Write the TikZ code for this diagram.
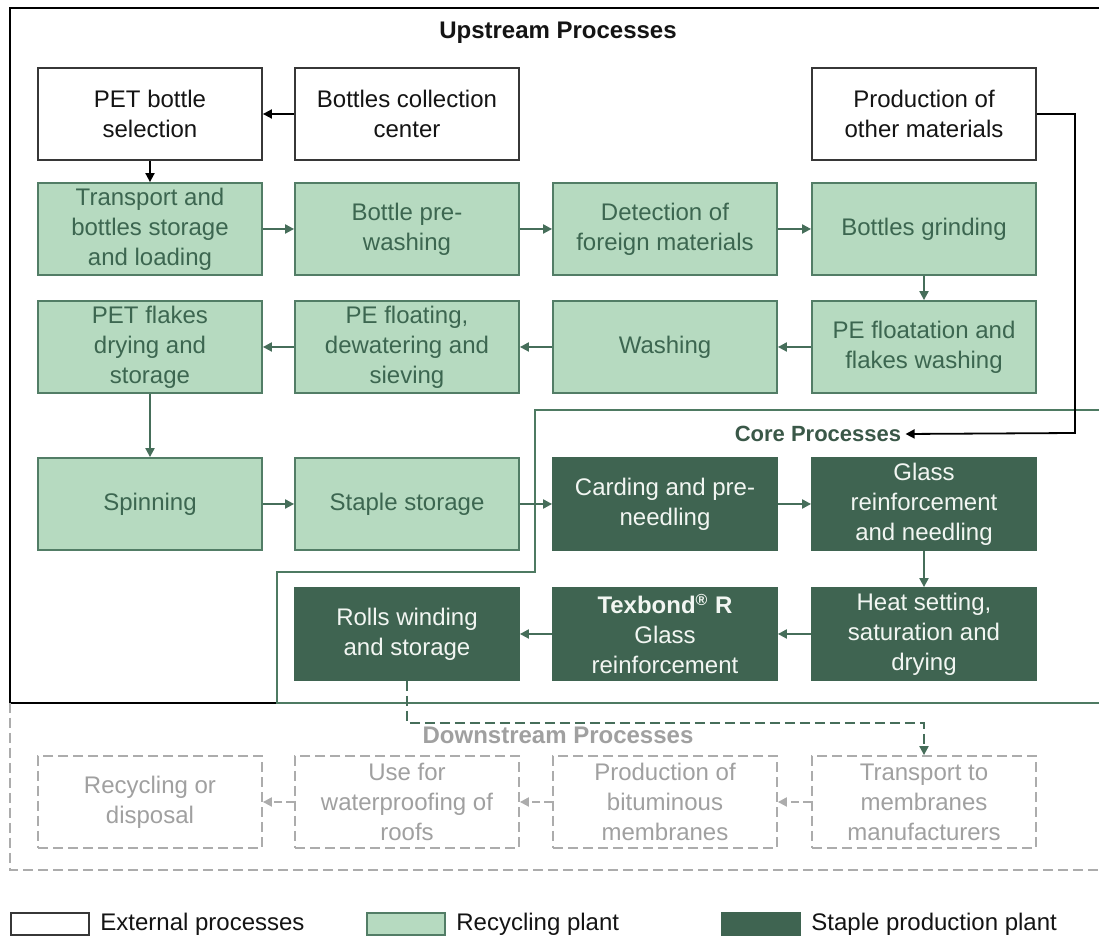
\documentclass[tikz,border=0pt]{standalone}
\usepackage{fontspec}
\setmainfont{Liberation Sans}
\usetikzlibrary{arrows.meta}
\definecolor{extdraw}{RGB}{55,55,55}
\definecolor{exttext}{RGB}{20,20,20}
\definecolor{recfill}{RGB}{182,218,192}
\definecolor{recdraw}{RGB}{82,125,102}
\definecolor{rectext}{RGB}{60,102,80}
\definecolor{stpfill}{RGB}{63,100,81}
\definecolor{stptext}{RGB}{242,246,242}
\definecolor{arrgreen}{RGB}{70,110,90}
\definecolor{coreline}{RGB}{78,122,98}
\definecolor{coretext}{RGB}{58,88,72}
\definecolor{graydraw}{RGB}{172,172,172}
\definecolor{graytext}{RGB}{160,160,160}
\begin{document}
\begin{tikzpicture}[x=0.5pt,y=-0.5pt,
  box/.style={minimum width=112pt,minimum height=46pt,inner sep=0pt,align=center,
    font=\fontsize{12pt}{15pt}\selectfont,line width=0.9pt},
  ext/.style={box,draw=extdraw,fill=white,text=exttext},
  rec/.style={box,draw=recdraw,fill=recfill,text=rectext},
  stp/.style={box,draw=stpfill,fill=stpfill,text=stptext},
  dwn/.style={box,draw=graydraw,dash pattern=on 5pt off 2.5pt,text=graytext},
  title/.style={font=\fontsize{12pt}{15pt}\selectfont\bfseries},
  garr/.style={-{Triangle[length=4.5pt,width=4.5pt]},line width=1pt,draw=arrgreen},
  karr/.style={-{Triangle[length=4.5pt,width=4.5pt]},line width=0.9pt,draw=black},
  darr/.style={-{Triangle[length=4.5pt,width=4.5pt]},line width=1pt,draw=graydraw,dash pattern=on 4pt off 2pt},
  legbox/.style={minimum width=39pt,minimum height=11pt,inner sep=0pt,line width=0.9pt},
  legtext/.style={anchor=west,inner sep=0pt,font=\fontsize{12pt}{15pt}\selectfont,text=exttext}
]
\useasboundingbox[fill=white] (0,0) rectangle (1099,940);

% frames
\draw[line width=1pt,black] (1099,8) -- (10,8) -- (10,703) -- (277,703);
\draw[line width=1pt,coreline] (1099,410) -- (535,410) -- (535,572) -- (277,572) -- (277,703) -- (1099,703);
\draw[line width=0.9pt,graydraw,dash pattern=on 5pt off 2.5pt] (10,703) -- (10,870) -- (1099,870);

% titles
\node[title,text=exttext] (uptitle) at (558,33) {Upstream Processes};
\node[font=\fontsize{11pt}{14pt}\selectfont\bfseries,text=coretext,inner sep=2pt] (coretitle) at (818,434) {Core Processes};
\node[title,text=graytext] (downtitle) at (558,735) {Downstream Processes};

% row 1
\node[ext] (pet) at (150,114) {PET bottle\\selection};
\node[ext] (coll) at (407,114) {Bottles collection\\center};
\node[ext] (prod) at (924,114) {Production of\\other materials};
% row 2
\node[rec] (trans) at (150,229) {Transport and\\bottles storage\\and loading};
\node[rec] (prew) at (407,229) {Bottle pre-\\washing};
\node[rec] (detect) at (665,229) {Detection of\\foreign materials};
\node[rec] (grind) at (924,229) {Bottles grinding};
% row 3
\node[rec] (flakes) at (150,347) {PET flakes\\drying and\\storage};
\node[rec] (pefl) at (407,347) {PE floating,\\dewatering and\\sieving};
\node[rec] (wash) at (665,347) {Washing};
\node[rec] (peft) at (924,347) {PE floatation and\\flakes washing};
% row 4
\node[rec] (spin) at (150,504) {Spinning};
\node[rec] (staple) at (407,504) {Staple storage};
\node[stp] (card) at (665,504) {Carding and pre-\\needling};
\node[stp] (glass) at (924,504) {Glass\\reinforcement\\and needling};
% row 5
\node[stp] (rolls) at (407,634) {Rolls winding\\and storage};
\node[stp] (tex) at (665,634) {\textbf{Texbond\textsuperscript{®} R}\\Glass\\reinforcement};
\node[stp] (heat) at (924,634) {Heat setting,\\saturation and\\drying};
% row 6
\node[dwn] (recy) at (150,802) {Recycling or\\disposal};
\node[dwn] (use) at (407,802) {Use for\\waterproofing of\\roofs};
\node[dwn] (bitu) at (665,802) {Production of\\bituminous\\membranes};
\node[dwn] (tmem) at (924,802) {Transport to\\membranes\\manufacturers};

% connectors
\draw[karr] (coll) -- (pet);
\draw[karr] (pet) -- (trans);
\draw[garr] (trans) -- (prew);
\draw[garr] (prew) -- (detect);
\draw[garr] (detect) -- (grind);
\draw[garr] (grind) -- (peft);
\draw[garr] (peft) -- (wash);
\draw[garr] (wash) -- (pefl);
\draw[garr] (pefl) -- (flakes);
\draw[garr] (flakes) -- (spin);
\draw[garr] (spin) -- (staple);
\draw[garr] (staple) -- (card);
\draw[garr] (card) -- (glass);
\draw[garr] (glass) -- (heat);
\draw[garr] (heat) -- (tex);
\draw[garr] (tex) -- (rolls);
\coordinate (pc) at (1075,433);
\draw[karr] (prod.east) -| (pc) -- (coretitle.east);
\coordinate (dd) at (407,723);
\draw[garr,dash pattern=on 5pt off 2.5pt] (rolls.south) -- (dd) -| (tmem.north);
\draw[darr] (tmem) -- (bitu);
\draw[darr] (bitu) -- (use);
\draw[darr] (use) -- (recy);

% legend
\node[legbox,draw=extdraw,fill=white] (lg1) at (50,924) {};
\node[legtext] (lt1) at (100,924) {External processes};
\node[legbox,draw=recdraw,fill=recfill] (lg2) at (406,924) {};
\node[legtext] (lt2) at (456,924) {Recycling plant};
\node[legbox,draw=stpfill,fill=stpfill] (lg3) at (761,924) {};
\node[legtext] (lt3) at (811,924) {Staple production plant};
\end{tikzpicture}
\end{document}
